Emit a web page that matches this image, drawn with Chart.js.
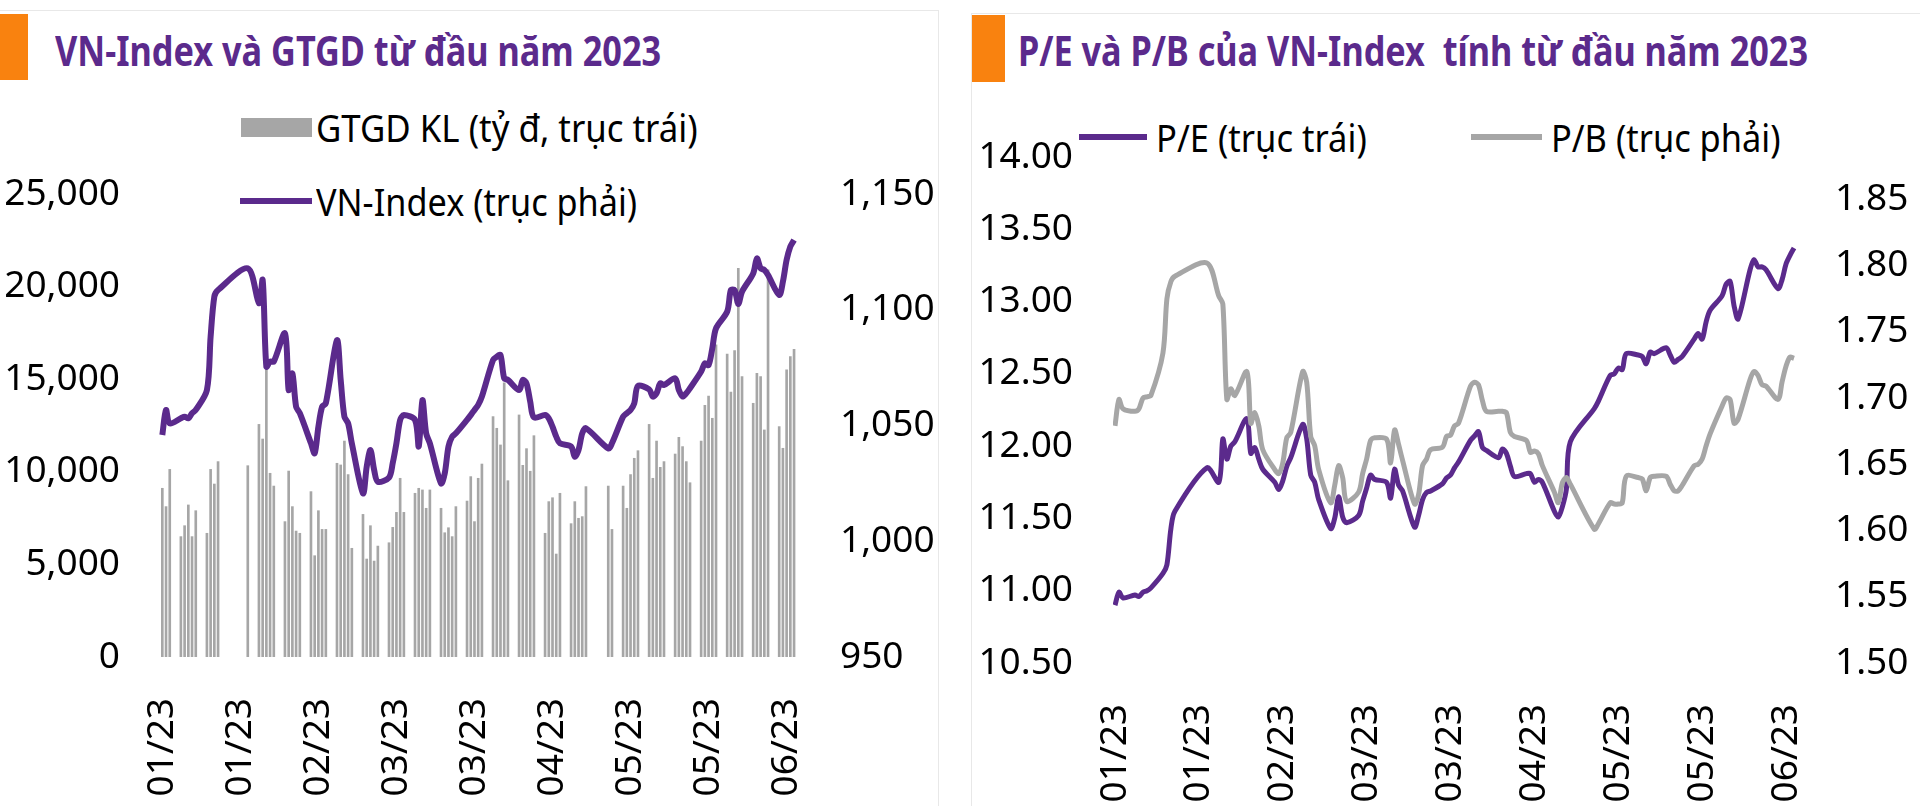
<!DOCTYPE html>
<html>
<head>
<meta charset="utf-8">
<script src="https://cdn.jsdelivr.net/npm/chart.js@4.4.0/dist/chart.umd.min.js"></script>
<style>
  body { margin: 0; width: 1920px; height: 806px; background: #fff; position: relative; overflow: hidden; font-family: "Noto Sans", sans-serif; }
  .panel { position: absolute; border: 1px solid #e8e8e8; box-sizing: border-box; }
  .mark { position: absolute; background: #f9820f; }
  .title { position: absolute; color: #5b2a8c; font-weight: bold; font-size: 42px; line-height: 1; white-space: pre; transform-origin: 0 50%; }
  .legtxt { position: absolute; color: #000; font-size: 38px; line-height: 1; white-space: pre; transform-origin: 0 50%; }
  .sw { position: absolute; }
  canvas { position: absolute; top: 0; }
</style>
</head>
<body>
<div class="panel" style="left:-1px; top:10px; width:940px; height:800px;"></div>
<div class="panel" style="left:971px; top:13px; width:960px; height:800px;"></div>
<div class="mark" style="left:0; top:14px; width:28px; height:66px;"></div>
<div class="mark" style="left:972px; top:15px; width:33px; height:67px;"></div>
<div class="title" id="t1"></div>
<div class="title" id="t2"></div>
<div id="leg"></div>
<canvas id="c1" width="940" height="806" style="left:0"></canvas>
<canvas id="c2" width="960" height="806" style="left:960px"></canvas>
<script>
// ---- data ----
const title1 = 'VN-Index và GTGD từ đầu năm 2023';
const title2 = 'P/E và P/B của VN-Index  tính từ đầu năm 2023';

// trading days (2023), MM-DD
const tradeDates = [
  '01-04','01-05','01-06','01-09','01-10','01-11','01-12','01-13','01-16','01-17','01-18','01-19','01-27','01-30','01-31',
  '02-01','02-02','02-03','02-06','02-07','02-08','02-09','02-10','02-13','02-14','02-15','02-16','02-17','02-20','02-21','02-22','02-23','02-24','02-27','02-28',
  '03-01','03-02','03-03','03-06','03-07','03-08','03-09','03-10','03-13','03-14','03-15','03-16','03-17','03-20','03-21','03-22','03-23','03-24','03-27','03-28','03-29','03-30','03-31',
  '04-03','04-04','04-05','04-06','04-07','04-10','04-11','04-12','04-13','04-14','04-17','04-18','04-19','04-20','04-21','04-24','04-25','04-26','04-27','04-28',
  '05-04','05-05','05-08','05-09','05-10','05-11','05-12','05-15','05-16','05-17','05-18','05-19','05-22','05-23','05-24','05-25','05-26','05-29','05-30','05-31',
  '06-01','06-02','06-05','06-06','06-07','06-08','06-09','06-12','06-13','06-14','06-15','06-16','06-19','06-20','06-21','06-22','06-23'
];

// GTGD khop lenh, ty dong (truc trai)
const gtgd = [
  9110, 8120, 10130, 6500, 7090, 8210, 6500, 7900, 6680, 10130, 9340, 10550, 10330, 12560, 11770,
  15620, 9920, 9230, 7310, 10040, 8120, 6800, 6680, 8930, 5470, 7900, 6890, 6890, 10460, 10370, 11660, 9850, 5870, 7700, 5290,
  7090, 5180, 5990, 6170, 7000, 7810, 9650, 7810, 8840, 9110, 9020, 8030, 9020, 8030, 6710, 6980, 6500, 8120, 8420, 9740, 7310, 9650, 10420,
  12980, 12350, 11450, 14810, 9520, 13070, 10350, 11250, 10030, 11950, 6680, 8390, 8600, 5560, 8840, 7200, 8390, 7490, 7580, 9200,
  9230, 6890, 9230, 8030, 9850, 10730, 11140, 12560, 9650, 11660, 10240, 10550, 10960, 11860, 11360, 10550, 9410, 11660, 13590, 14090,
  12890, 16850, 16360, 14310, 16540, 20990, 15140, 13700, 15320, 15140, 12260, 20900, 12440, 11270, 15500, 16220, 16610
];

// VN-Index (truc phai)
const vnIndex = [
  1045.9, 1056.7, 1050.9, 1053.1, 1053.8, 1053.1, 1055.3, 1056.7, 1065.3, 1088.4, 1105.7, 1108.5, 1117.9, 1102.8, 1112.9,
  1075.4, 1077.6, 1077.6, 1089.8, 1065.3, 1072.5, 1058.1, 1055.3, 1042.3, 1038.0, 1049.5, 1058.1, 1059.6, 1086.9, 1069.7, 1053.8, 1050.9, 1042.3, 1020.7, 1032.2,
  1039.4, 1030.8, 1025.7, 1027.5, 1033.7, 1042.3, 1052.4, 1054.5, 1052.4, 1040.9, 1061.0, 1046.6, 1042.3, 1025.0, 1029.3, 1040.9, 1045.2, 1046.6, 1052.4, 1054.5, 1056.7, 1058.9, 1062.5,
  1078.3, 1079.7, 1080.5, 1070.4, 1069.7, 1065.3, 1069.7, 1068.2, 1060.3, 1053.5, 1054.5, 1053.1, 1049.5, 1045.2, 1042.3, 1040.9, 1036.5, 1039.4, 1046.6, 1048.8,
  1040.1, 1042.3, 1053.8, 1055.3, 1056.7, 1059.6, 1067.1, 1065.6, 1062.5, 1063.9, 1068.2, 1067.5, 1070.4, 1065.3, 1062.5, 1063.9, 1066.1, 1073.3, 1076.9, 1076.1,
  1083.3, 1092.0, 1099.2, 1108.5, 1108.5, 1102.5, 1107.8, 1115.7, 1122.2, 1117.9, 1117.2, 1115.0, 1106.4, 1112.1, 1121.5, 1127.3, 1130.1
];

// P/E (truc trai)
const pe = [
  10.90, 10.99, 10.95, 10.97, 10.96, 10.99, 11.00, 11.02, 11.12, 11.18, 11.43, 11.55, 11.85, 11.75, 12.05,
  11.91, 12.00, 12.03, 12.19, 11.95, 11.99, 11.91, 11.84, 11.75, 11.70, 11.76, 11.86, 11.92, 12.15, 12.05, 11.80, 11.75, 11.63, 11.43, 11.50,
  11.65, 11.51, 11.47, 11.52, 11.62, 11.71, 11.80, 11.77, 11.75, 11.64, 11.84, 11.73, 11.69, 11.44, 11.52, 11.63, 11.68, 11.69, 11.74, 11.78, 11.80, 11.85, 11.89,
  12.04, 12.07, 12.10, 11.99, 11.97, 11.92, 11.98, 11.95, 11.86, 11.79, 11.81, 11.81, 11.75, 11.77, 11.75, 11.55, 11.51, 11.58, 11.70, 12.03,
  12.26, 12.31, 12.49, 12.50, 12.54, 12.53, 12.64, 12.63, 12.62, 12.57, 12.65, 12.64, 12.68, 12.63, 12.58, 12.60, 12.62, 12.74, 12.78, 12.74,
  12.86, 12.94, 13.04, 13.12, 13.14, 12.97, 12.88, 13.22, 13.29, 13.24, 13.24, 13.22, 13.09, 13.15, 13.26, 13.32, 13.37
];

// P/B (truc phai)
const pb = [
  1.679, 1.699, 1.692, 1.690, 1.692, 1.700, 1.701, 1.702, 1.734, 1.775, 1.788, 1.792, 1.802, 1.777, 1.771,
  1.699, 1.707, 1.702, 1.720, 1.681, 1.689, 1.679, 1.661, 1.646, 1.643, 1.651, 1.670, 1.674, 1.720, 1.712, 1.671, 1.664, 1.646, 1.621, 1.634,
  1.649, 1.640, 1.622, 1.629, 1.643, 1.654, 1.668, 1.670, 1.669, 1.651, 1.676, 1.665, 1.653, 1.620, 1.627, 1.649, 1.654, 1.661, 1.663, 1.671, 1.672, 1.679, 1.681,
  1.709, 1.712, 1.710, 1.698, 1.690, 1.690, 1.690, 1.689, 1.674, 1.671, 1.668, 1.659, 1.660, 1.658, 1.649, 1.629, 1.621, 1.636, 1.640, 1.635,
  1.601, 1.605, 1.621, 1.620, 1.620, 1.621, 1.641, 1.640, 1.639, 1.630, 1.640, 1.641, 1.641, 1.635, 1.630, 1.630, 1.634, 1.649, 1.650, 1.654,
  1.664, 1.673, 1.694, 1.700, 1.699, 1.681, 1.684, 1.714, 1.720, 1.717, 1.710, 1.709, 1.699, 1.712, 1.724, 1.731, 1.730
];

// x axis labels: one every 21 days from 04/01/2023
const tickDays = [0, 21, 42, 63, 84, 105, 126, 147, 168];
const tickLabels = ['01/23', '01/23', '02/23', '03/23', '03/23', '04/23', '05/23', '05/23', '06/23'];

const gtgdLabel = 'GTGD KL (tỷ đ, trục trái)';
const vnLabel = 'VN-Index (trục phải)';
const peLabel = 'P/E (trục trái)';
const pbLabel = 'P/B (trục phải)';

// ---- styling ----
const PURPLE = '#5b2a8c';
const GRAY = '#a6a6a6';
const FONT = { family: '"Noto Sans", sans-serif', size: 37 };

const base = Date.UTC(2023, 0, 4);
const xs = tradeDates.map(s => {
  const [m, d] = s.split('-').map(Number);
  return Math.round((Date.UTC(2023, m - 1, d) - base) / 864e5);
});
const pts = arr => arr.map((v, i) => ({ x: xs[i], y: v }));

function xAxis(min, max, height) {
  return {
    type: 'linear', min: min, max: max, offset: false,
    grid: { display: false, drawTicks: false }, border: { display: false },
    afterBuildTicks: s => { s.ticks = tickDays.map(v => ({ value: v })); },
    afterFit: s => { s.height = height; },
    ticks: {
      autoSkip: false, minRotation: 90, maxRotation: 90, padding: 41, color: '#000', font: FONT,
      callback: (v, i) => tickLabels[i]
    }
  };
}

function yAxis(pos, min, max, step, width, pad, fmt, top) {
  return {
    position: pos, min: min, max: max,
    grid: { display: false, drawTicks: false }, border: { display: false },
    afterFit: s => { s.width = width; },
    afterBuildTicks: s => { s.ticks = s.ticks.filter(t => t.value <= top + 1e-6); },
    ticks: { stepSize: step, padding: pad, color: '#000', font: FONT, callback: fmt }
  };
}

const noFx = { legend: { display: false }, tooltip: { enabled: false } };

// VN-Index & GTGD
new Chart(document.getElementById('c1'), {
  type: 'bar',
  data: {
    datasets: [
      { type: 'line', label: vnLabel, data: pts(vnIndex), yAxisID: 'y1', borderColor: PURPLE, borderWidth: 6,
        pointRadius: 0, tension: 0.3, order: 0 },
      { type: 'bar', label: gtgdLabel, data: pts(gtgd), yAxisID: 'y', backgroundColor: GRAY,
        barThickness: 2, order: 1 }
    ]
  },
  options: {
    responsive: false, animation: false, plugins: noFx,
    layout: { padding: { top: 194, left: 0, right: 0, bottom: 0 } },
    scales: {
      x: xAxis(-1.7, 171.6, 149),
      y: yAxis('left', 0, 25000, 5000, 156, 36, v => v.toLocaleString('en-US'), 25000),
      y1: yAxis('right', 950, 1150, 50, 140, 40, v => v.toLocaleString('en-US'), 1150)
    }
  }
});

// P/E & P/B
new Chart(document.getElementById('c2'), {
  type: 'line',
  data: {
    datasets: [
      { label: peLabel, data: pts(pe), yAxisID: 'y', borderColor: PURPLE, borderWidth: 5,
        pointRadius: 0, tension: 0.3, order: 1 },
      { label: pbLabel, data: pts(pb), yAxisID: 'y1', borderColor: GRAY, borderWidth: 5,
        pointRadius: 0, tension: 0.3, order: 0 }
    ]
  },
  options: {
    responsive: false, animation: false, plugins: noFx,
    layout: { padding: { top: 157, left: 0, right: 0, bottom: 0 } },
    scales: {
      x: xAxis(-0.5, 170.75, 143),
      y: yAxis('left', 10.5, 14, 0.5, 153, 40, v => v.toFixed(2), 14),
      y1: yAxis('right', 1.5, 1.882, 0.05, 123, 38, v => v.toFixed(2), 1.85)
    }
  }
});

// ---- titles and legends (html) ----
function fitText(el, x, cy, w) {
  el.style.left = x + 'px';
  el.style.top = (cy - el.offsetHeight / 2) + 'px';
  el.style.transform = 'scaleX(' + (w / el.offsetWidth) + ')';
}
function addText(cls, txt, x, cy, w) {
  const el = document.createElement('div');
  el.className = cls;
  el.textContent = txt;
  document.getElementById('leg').appendChild(el);
  fitText(el, x, cy, w);
}
function addSwatch(color, x, y, w, h) {
  const el = document.createElement('div');
  el.className = 'sw';
  Object.assign(el.style, { left: x + 'px', top: y + 'px', width: w + 'px', height: h + 'px', background: color });
  document.getElementById('leg').appendChild(el);
}
const t1 = document.getElementById('t1'); t1.textContent = title1; fitText(t1, 55, 50, 606);
const t2 = document.getElementById('t2'); t2.textContent = title2; fitText(t2, 1018, 50, 790);

addSwatch(GRAY, 241, 118, 71, 19);
addText('legtxt', gtgdLabel, 316, 127, 382);
addSwatch(PURPLE, 240, 198, 72, 6);
addText('legtxt', vnLabel, 316, 201, 321);

addSwatch(PURPLE, 1079, 134, 68, 6);
addText('legtxt', peLabel, 1156, 137, 211);
addSwatch(GRAY, 1471, 134, 71, 6);
addText('legtxt', pbLabel, 1551, 137, 230);
</script>
</body>
</html>
